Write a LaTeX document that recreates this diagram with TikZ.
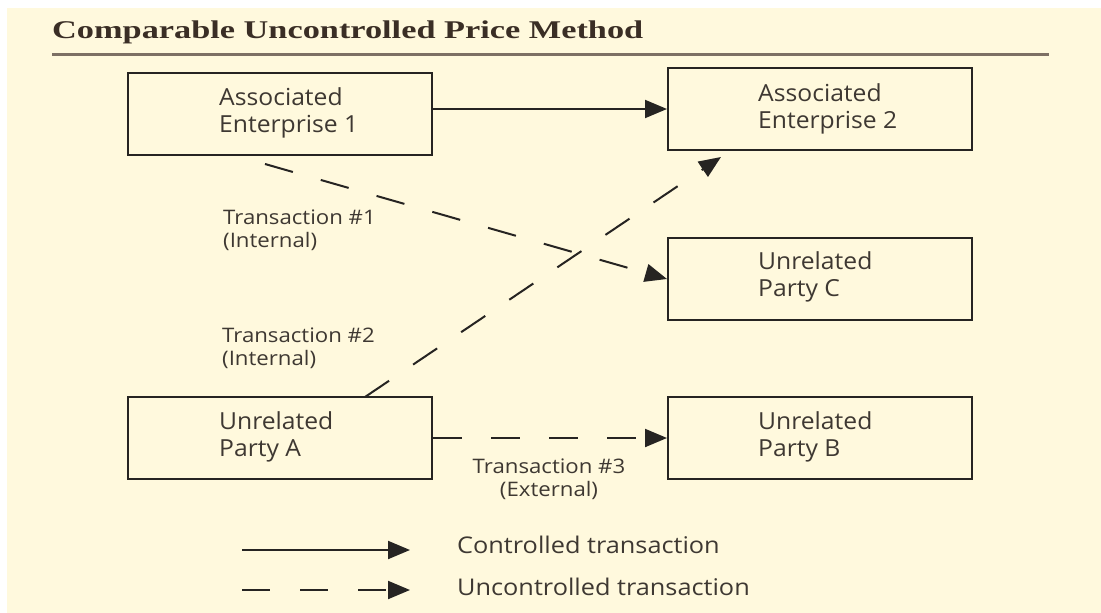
\documentclass[tikz,border=0pt]{standalone}
\usepackage{fontspec}
\setmainfont{Open Sans}
\newfontfamily\boxfont[FakeStretch=1.05]{Open Sans}
\newfontfamily\lblfont[FakeStretch=1.11]{Open Sans}
\newfontfamily\legfont[FakeStretch=1.1]{Open Sans}
\newfontfamily\titlefont{Liberation Serif}
\usetikzlibrary{arrows.meta,calc}
\definecolor{cream}{RGB}{255,249,221}
\definecolor{ink}{RGB}{62,56,50}
\definecolor{linec}{RGB}{38,36,34}
\definecolor{rulec}{RGB}{125,112,100}
\definecolor{titlec}{RGB}{58,46,37}
\begin{document}
\begin{tikzpicture}[x=1pt,y=-1pt,
  box/.style={draw=linec, line width=2pt, minimum width=304pt, minimum height=82pt, inner sep=0pt},
  boxtext/.style={anchor=base west, align=left, text=ink, font=\boxfont\fontsize{23.5}{27}\selectfont, inner sep=0pt},
  lbl/.style={anchor=base west, align=left, text=ink, font=\lblfont\fontsize{20}{23}\selectfont, inner sep=0pt},
  legtext/.style={anchor=base west, text=ink, font=\legfont\fontsize{23}{27}\selectfont, inner sep=0pt},
  ctrl/.style={draw=linec, line width=2pt, -{Triangle[length=22pt,width=18pt]}},
  unctrl/.style={ctrl, dash pattern=on 29pt off 29pt}]
\useasboundingbox (0,0) rectangle (1101,613);
\fill[white] (0,0) rectangle (1101,613);
\fill[cream] (7,8) rectangle (1101,613);

% title and rule
\node[anchor=base west, inner sep=0pt, text=titlec] (title) at (52,38)
  {\resizebox{591pt}{\height}{\titlefont\bfseries\fontsize{25.5}{28}\selectfont Comparable Uncontrolled Price Method}};
\coordinate (rl) at (52,54);
\coordinate (rr) at (1049,54);
\draw[rulec, line width=3pt] (rl) -- (rr);

% boxes
\node[box] (ae1) at (280,114) {};
\node[box] (ae2) at (820,109) {};
\node[box] (pc) at (820,279) {};
\node[box] (pa) at (280,438) {};
\node[box] (pb) at (820,438) {};

\node[boxtext] (ae1t) at (219,132) {Associated\\Enterprise 1};
\node[boxtext] (ae2t) at (758,128) {Associated\\Enterprise 2};
\node[boxtext] (pct) at (758,296) {Unrelated\\Party C};
\node[boxtext] (pat) at (219,456) {Unrelated\\Party A};
\node[boxtext] (pbt) at (758,456) {Unrelated\\Party B};

% labels
\node[lbl] (t1) at (223,247) {Transaction \#1\\(Internal)};
\node[lbl] (t2) at (222,365) {Transaction \#2\\(Internal)};
\node[lbl, anchor=base, align=center] (t3) at (549,496) {Transaction \#3\\(External)};

% connectors
\draw[ctrl] (ae1.east |- ae2.west) -- (ae2.west);
\coordinate (t1s) at (265,164);
\draw[unctrl] (t1s) -- (pc.west);
\coordinate (t2s) at (365,397);
\coordinate (t2e) at (721,157);
\draw[unctrl] (t2s) -- (t2e);
\draw[unctrl] (pa.east) -- (pb.west);

% legend
\coordinate (l1a) at (242,550);
\coordinate (l1b) at (410,550);
\coordinate (l2a) at (242,590);
\coordinate (l2b) at (410,590);
\draw[ctrl] (l1a) -- (l1b);
\draw[unctrl, dash pattern=on 28pt off 30pt] (l2a) -- (l2b);
\node[legtext] (lc) at (457,553) {Controlled transaction};
\node[legtext] (lu) at (457,595) {Uncontrolled transaction};
\end{tikzpicture}
\end{document}
